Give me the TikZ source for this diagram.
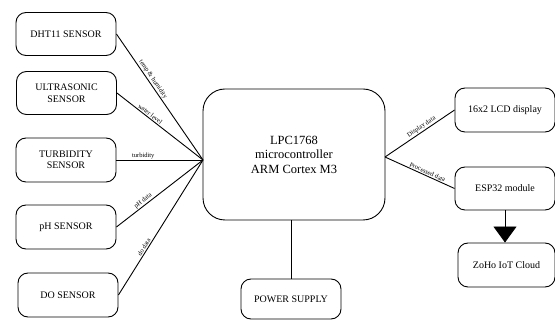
\documentclass[tikz,border=0pt]{standalone}
\usepackage{fontspec}
\setmainfont{Liberation Serif}
\usetikzlibrary{arrows.meta}
\begin{document}
\begin{tikzpicture}[x=1pt,y=-1pt,
  box/.style={draw=black,line width=0.9pt,rounded corners=10pt,minimum width=100pt,minimum height=43pt,inner sep=1pt,align=center,font=\fontsize{10}{11.5}\selectfont},
  conn/.style={draw=black,line width=0.9pt},
  lbl/.style={font=\fontsize{6.5}{7.5}\selectfont,sloped,above,inner sep=1pt}]
\useasboundingbox (0,0) rectangle (555,320);
\node[box] (dht) at (66,34) {DHT11 SENSOR};
\node[box] (ultra) at (66.5,93) {ULTRASONIC\\SENSOR};
\node[box,minimum height=44pt] (turb) at (66,160) {TURBIDITY\\SENSOR};
\node[box,minimum height=44pt] (ph) at (66,227) {pH SENSOR};
\node[box,minimum height=44pt] (do) at (68,295) {DO SENSOR};
\node[box,rounded corners=22pt,minimum width=182pt,minimum height=131pt,font=\fontsize{12.5}{14.5}\selectfont] (micro) at (294,154.5) {LPC1768\\microcontroller\\ARM Cortex M3};
\node[box,minimum height=40pt] (power) at (291,299) {POWER SUPPLY};
\node[box,minimum height=44pt] (lcd) at (505,110) {16x2 LCD display};
\node[box] (esp) at (505,188.5) {ESP32 module};
\node[box,minimum width=97pt,minimum height=44pt] (cloud) at (506.5,265) {ZoHo IoT Cloud};
\coordinate (hubL) at (203,160);
\coordinate (hubR) at (385,157);
\draw[conn] (dht.east) -- node[lbl,pos=0.38] {temp \& humidity} (hubL);
\draw[conn] (ultra.east) -- node[lbl,pos=0.36] {water level} (hubL);
\draw[conn] (turb.east) -- node[lbl,pos=0.31] {turbidity} (hubL);
\draw[conn] (ph.east) -- node[lbl,pos=0.34] {pH data} (hubL);
\draw[conn] (do.east) -- node[lbl,pos=0.34] {do data} (hubL);
\draw[conn] (hubR) -- node[lbl,pos=0.56] {Display data} (lcd.west);
\draw[conn] (hubR) -- node[lbl,pos=0.59] {Processed data} (esp.west);
\draw[conn] (power.north) -- (power.north |- micro.south);
\draw[conn,-{Triangle[width=23pt,length=16pt]}] (esp.south) -- (esp.south |- cloud.north);
\end{tikzpicture}
\end{document}
